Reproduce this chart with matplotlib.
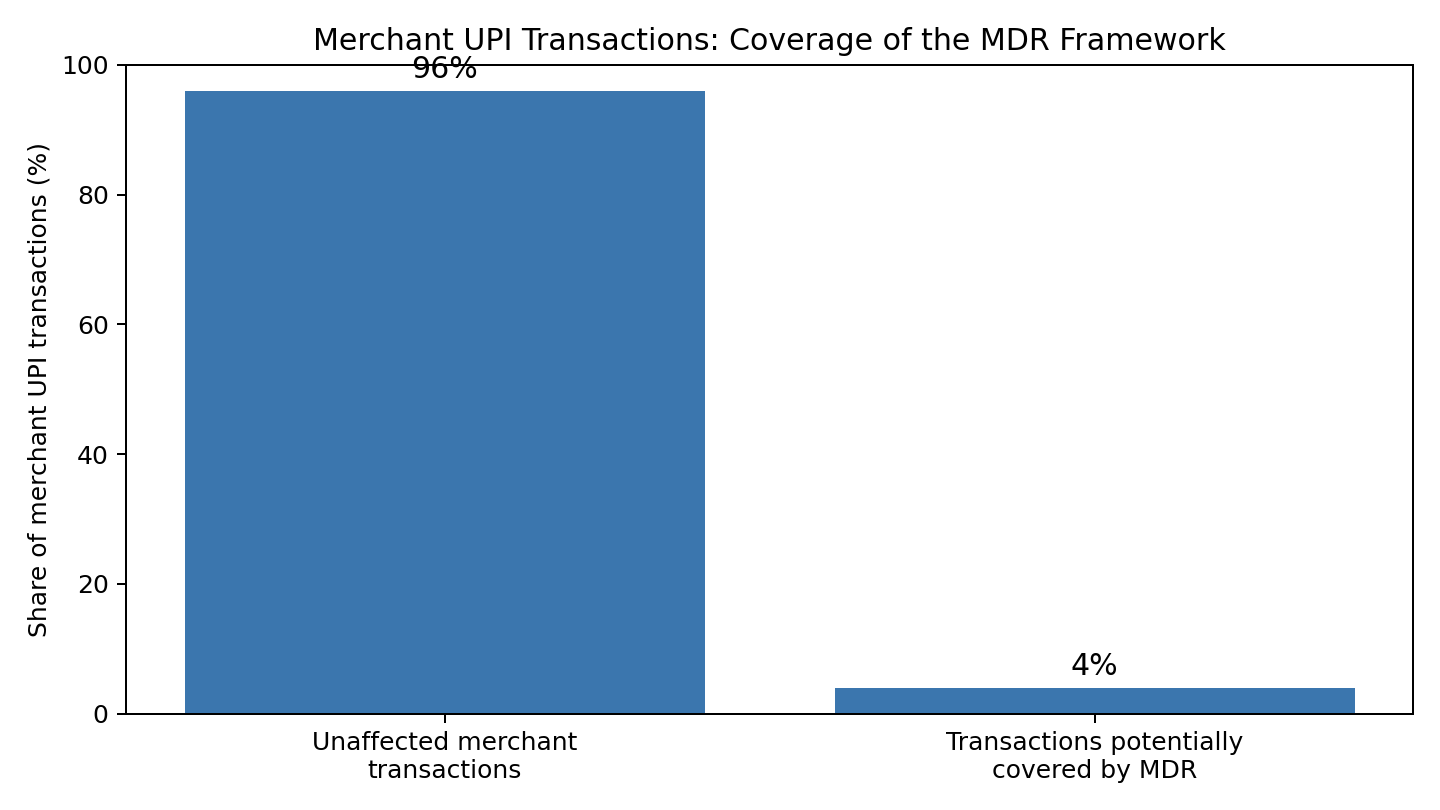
import matplotlib
matplotlib.use("Agg")
import matplotlib.pyplot as plt

# Data
categories = ["Unaffected merchant\ntransactions",
              "Transactions potentially\ncovered by MDR"]
shares = [96, 4]
labels = ["96%", "4%"]

fig, ax = plt.subplots(figsize=(8, 4.5), dpi=180)
bars = ax.bar(categories, shares, width=0.8, color="#3b76ae")
for bar, lab in zip(bars, labels):
    ax.text(bar.get_x() + bar.get_width() / 2, bar.get_height() + 1, lab,
            ha="center", va="bottom", fontsize=12)

ax.set_ylim(0, 100)
ax.set_ylabel("Share of merchant UPI transactions (%)")
ax.set_title("Merchant UPI Transactions: Coverage of the MDR Framework")

plt.tight_layout()
plt.savefig("out.png", dpi=180)
